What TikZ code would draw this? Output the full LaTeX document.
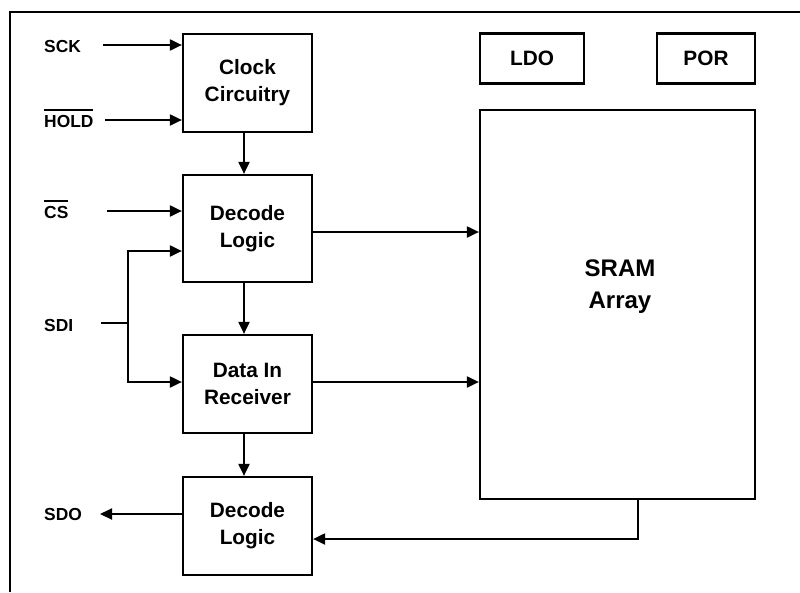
\documentclass[tikz,border=0pt]{standalone}
\usepackage{fontspec}
\setmainfont{Liberation Sans}
\usetikzlibrary{arrows.meta}
\newcommand{\ovbar}[1]{\leavevmode\setbox0\hbox{#1}\rlap{\rule[15.8pt]{\wd0}{2pt}}\box0}
\begin{document}
\begin{tikzpicture}[x=1pt,y=-1pt,
  blk/.style={draw,line width=2.2pt,inner sep=0pt,align=center,font=\bfseries\fontsize{20.8}{27}\selectfont},
  sig/.style={anchor=base west,inner sep=0pt,font=\bfseries\fontsize{17.4}{20}\selectfont},
  wire/.style={line width=2pt},
  conn/.style={wire,-{Triangle[length=12pt,width=11pt]}}]
\useasboundingbox (0,0) rectangle (800,592);
% 外枠
\draw[line width=2pt] (10,592) -- (10,12) -- (800,12);
% 左の列のブロック
\node[blk,minimum width=129,minimum height=98] (clk) at (247.5,83) {Clock\\Circuitry};
\node[blk,minimum width=129,minimum height=107] (dec1) at (247.5,228.5) {Decode\\Logic};
\node[blk,minimum width=129,minimum height=98] (din) at (247.5,384) {Data In\\Receiver};
\node[blk,minimum width=129,minimum height=98] (dec2) at (247.5,526) {Decode\\Logic};
% 右側のブロック
\node[blk,minimum width=104,minimum height=50] (ldo) at (532,58.5) {LDO};
\node[blk,minimum width=98,minimum height=50] (por) at (706,58.5) {POR};
\node[blk,minimum width=275,minimum height=389] (sram) at (617.5,304.5) {};
\node[font=\bfseries\fontsize{24}{32}\selectfont,align=center] (sramtxt) at (620,287) {SRAM\\Array};
% 信号名
\node[sig] (sck) at (44,52) {SCK};
\node[sig] (hold) at (44,127) {\ovbar{HOLD}};
\node[sig] (cs) at (44,218) {\ovbar{CS}};
\node[sig] (sdi) at (44,331) {SDI};
\node[sig] (sdo) at (44,520) {SDO};
% 入力
\coordinate (sckin) at (103,45);
\coordinate (holdin) at (105,120);
\coordinate (csin) at (107,211);
\draw[conn] (sckin) -- (clk.west |- sckin);
\draw[conn] (holdin) -- (clk.west |- holdin);
\draw[conn] (csin) -- (dec1.west |- csin);
% SDI の分岐
\coordinate (sdiin) at (101,323);
\coordinate (sdij) at (128,323);
\coordinate (sdiup) at (128,251);
\coordinate (sdidn) at (128,382);
\draw[wire] (sdiin) -- (sdij);
\draw[conn] (sdij) -- (sdiup) -- (dec1.west |- sdiup);
\draw[conn] (sdij) -- (sdidn) -- (din.west |- sdidn);
% 縦の流れ
\draw[conn] ([xshift=-3.5pt]clk.south) -- ([xshift=-3.5pt]dec1.north);
\draw[conn] ([xshift=-3.5pt]dec1.south) -- ([xshift=-3.5pt]din.north);
\draw[conn] ([xshift=-3.5pt]din.south) -- ([xshift=-3.5pt]dec2.north);
% SRAM へ
\path (dec1.east) ++(0,3.5) coordinate (d1o);
\path (din.east) ++(0,-2) coordinate (dio);
\draw[conn] (d1o) -- (sram.west |- d1o);
\draw[conn] (dio) -- (sram.west |- dio);
% SRAM から戻り
\path (sram.south) ++(20.5,0) coordinate (fbs);
\path (dec2.east) ++(0,13) coordinate (d2i);
\draw[conn] (fbs) |- (d2i);
% 出力
\coordinate (sdoout) at (100,514);
\draw[conn] (dec2.west |- sdoout) -- (sdoout);
\end{tikzpicture}
\end{document}
